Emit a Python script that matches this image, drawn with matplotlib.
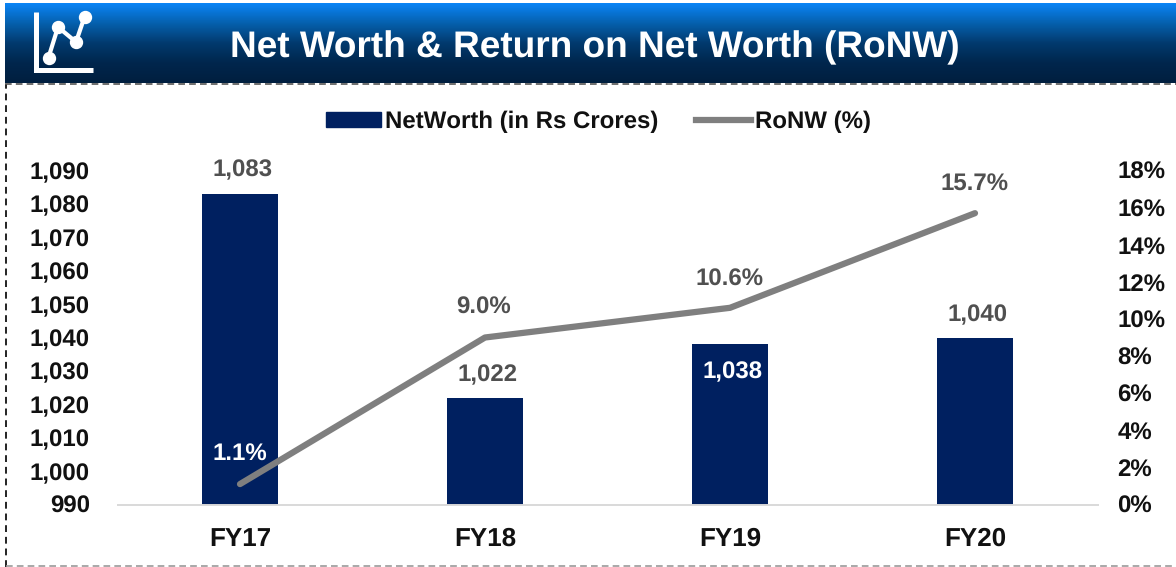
import numpy as np
import matplotlib
matplotlib.use("Agg")
import matplotlib.pyplot as plt
from matplotlib.colors import LinearSegmentedColormap
from matplotlib.patches import Rectangle
from matplotlib.lines import Line2D

plt.rcParams['font.family'] = ['Liberation Sans', 'DejaVu Sans']
plt.rcParams['text.hinting'] = 'none'
plt.rcParams['text.hinting_factor'] = 1

years = ["FY17", "FY18", "FY19", "FY20"]
networth = [1083, 1022, 1038, 1040]
ronw = [1.1, 9.0, 10.6, 15.7]
networth_ticks = [990, 1000, 1010, 1020, 1030, 1040, 1050, 1060, 1070, 1080, 1090]
ronw_ticks = [0, 2, 4, 6, 8, 10, 12, 14, 16, 18]

W, H = 1176, 567
navy = "#002060"
grey = "#7f7f7f"
label_grey = "#505050"
tick_col = "#111111"
fs = 17.2
px = 0.72  # points per pixel at dpi 100

fig = plt.figure(figsize=(W / 100, H / 100), dpi=100)

# header band
head = fig.add_axes([5 / W, 1 - 83 / H, 1 - 5 / W, 80 / H])
cmap = LinearSegmentedColormap.from_list("head", ["#0a84f5", "#0560ad", "#023a6e", "#00264d", "#001f3f"])
head.imshow(np.linspace(0, 1, 80).reshape(-1, 1), aspect="auto", cmap=cmap)
head.axis("off")
fig.text(594.5 / W, 1 - 48 / H, "Net Worth & Return on Net Worth (RoNW)", color="white",
         fontsize=26.4, fontweight="bold", ha="center", va="center")

# little chart icon in the header
icon = fig.add_axes([0, 1 - 83 / H, 100 / W, 80 / H])
icon.set_xlim(0, 100)
icon.set_ylim(83, 3)
icon.axis("off")
icon.patch.set_alpha(0)
icon.plot([35.5, 35.5, 93], [12, 69.5, 69.5], color="white", lw=3.6, solid_joinstyle="miter", solid_capstyle="butt")
icon.plot([48.5, 58, 76, 84.5], [57.5, 27, 42, 17], color="white", lw=3, marker="o", ms=8.6)

# dashed border
fig.add_artist(Line2D([5.5 / W, 5.5 / W], [0, 1 - 84 / H], color="#222222", lw=1.4, ls=(0, (3.5, 2.5))))
fig.add_artist(Line2D([5 / W, 1], [1 - 84 / H, 1 - 84 / H], color="#555555", lw=1.2, ls=(0, (4, 2.5))))
fig.add_artist(Line2D([6 / W, 1], [1 / H, 1 / H], color="#999999", lw=1.2, ls=(0, (4, 2.5))))

left, right, top, bottom = 117.5, 1097.5, 170.5, 504.5
ax = fig.add_axes([left / W, 1 - bottom / H, (right - left) / W, (bottom - top) / H])
x = np.arange(len(years))
bars = ax.bar(x, networth, width=0.314, color=navy, label="NetWorth (in Rs Crores)")
ax.set_xlim(-0.5, 3.5)
ax.set_ylim(990, 1090)
ax.set_yticks(networth_ticks, labels=[f"{v:,}" for v in networth_ticks])
ax.set_xticks(x, labels=years)
ax.tick_params(axis="y", length=0, labelsize=fs, labelcolor=tick_col, pad=20)
ax.tick_params(axis="x", length=0, labelsize=19, labelcolor=tick_col, pad=16)
for lab in ax.get_xticklabels() + ax.get_yticklabels():
    lab.set_fontweight("bold")
for s in ["top", "left", "right"]:
    ax.spines[s].set_visible(False)
ax.spines["bottom"].set_color("#d9d9d9")
ax.spines["bottom"].set_linewidth(1.4)

ax2 = ax.twinx()
ax2.plot(x, ronw, color=grey, lw=4.5, label="RoNW (%)", solid_capstyle="round")
ax2.set_ylim(0, 18)
ax2.set_yticks(ronw_ticks, labels=[f"{v}%" for v in ronw_ticks])
ax2.tick_params(axis="y", length=0, labelsize=fs, labelcolor=tick_col, pad=14.4)
for lab in ax2.get_yticklabels():
    lab.set_fontweight("bold")
for s in ax2.spines.values():
    s.set_visible(False)

# bar value labels, the FY19 one sits inside the bar
bar_offs = [24, 23, -28, 22]
for i, v in enumerate(networth):
    ax.annotate(f"{v:,}", (x[i], v), xytext=(3 * px, bar_offs[i] * px), textcoords="offset points",
                ha="center", va="center", fontsize=fs, fontweight="bold",
                color="white" if bar_offs[i] < 0 else label_grey)

# line value labels
line_offs = [(0, 30), (-1, 30), (0, 28), (0, 30)]
for i, v in enumerate(ronw):
    ax2.annotate(f"{v}%", (x[i], v), xytext=(line_offs[i][0] * px, line_offs[i][1] * px), textcoords="offset points",
                 ha="center", va="center", fontsize=fs, fontweight="bold",
                 color="white" if i == 0 else label_grey)

handles = [Rectangle((0, 0), 1, 1, color=navy), Line2D([], [], color=grey, lw=4.5)]
fig.legend(handles, ["NetWorth (in Rs Crores)", "RoNW (%)"], loc="center", bbox_to_anchor=(598.5 / W, 1 - 122 / H),
           ncol=2, frameon=False, prop={"size": fs, "weight": "bold"}, labelcolor=tick_col,
           handlelength=2.3, handleheight=0.6, handletextpad=0.2, columnspacing=1.55)

fig.savefig("out.png", dpi=100)
